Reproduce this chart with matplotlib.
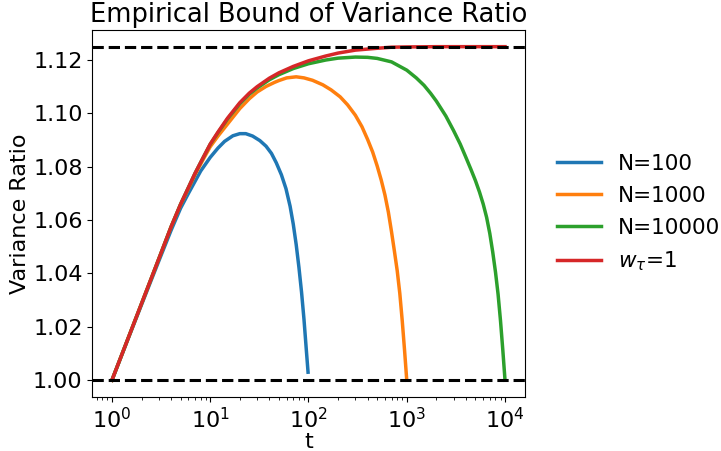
import matplotlib
matplotlib.use('Agg')
import matplotlib.pyplot as plt

# values (t on log axis)
t_100 = [1, 1.5, 2, 3, 4, 5, 6, 7, 8, 10, 12, 14, 17, 20, 23, 27, 32, 37, 42,
         47, 53, 59, 65, 70, 75, 80, 85, 90, 95, 99]
vr_100 = [1.0, 1.0166, 1.0283, 1.0447, 1.0562, 1.0645, 1.0700, 1.0745, 1.0784,
          1.0835, 1.0870, 1.0895, 1.0916, 1.0924, 1.0924, 1.0915, 1.0898, 1.0877,
          1.0850, 1.0815, 1.0770, 1.0718, 1.0652, 1.0585, 1.0508, 1.0422, 1.0330,
          1.0228, 1.0115, 1.0030]

t_1000 = [1, 1.5, 2, 3, 4, 5, 6, 7, 8.5, 10, 12, 15, 20, 25, 30, 37, 45, 50, 60,
          75, 90, 110, 140, 170, 210, 250, 300, 350, 400, 450, 500, 550, 600, 650,
          700, 750, 800, 850, 900, 950, 990, 1000]
vr_1000 = [1.0, 1.0168, 1.0287, 1.0455, 1.0575, 1.0658, 1.0718, 1.0770, 1.0828,
           1.0875, 1.0915, 1.0960, 1.1018, 1.1055, 1.1080, 1.1101, 1.1116, 1.1123,
           1.1133, 1.1137, 1.1133, 1.1124, 1.1107, 1.1088, 1.1062, 1.1032, 1.0993,
           1.0950, 1.0902, 1.0855, 1.0803, 1.0750, 1.0694, 1.0630, 1.0556, 1.0482,
           1.0410, 1.0325, 1.0222, 1.0112, 1.0022, 1.0]

t_10000 = [1, 1.5, 2, 3, 4, 5, 6, 7, 8.5, 10, 12, 15, 20, 25, 30, 40, 50, 70, 100,
           150, 200, 300, 400, 500, 700, 1000, 1250, 1500, 1750, 2000, 2500, 3000,
           3500, 4000, 4500, 5000, 5500, 6000, 6500, 7000, 7500, 8000, 8500, 9000,
           9500, 9900, 10000]
vr_10000 = [1.0, 1.0168, 1.0287, 1.0455, 1.0575, 1.0660, 1.0722, 1.0775, 1.0835,
            1.0884, 1.0928, 1.0979, 1.1036, 1.1072, 1.1095, 1.1126, 1.1145, 1.1168,
            1.1186, 1.1200, 1.1207, 1.1211, 1.1210, 1.1206, 1.1193, 1.1162, 1.1133,
            1.1105, 1.1075, 1.1046, 1.0990, 1.0935, 1.0885, 1.0835, 1.0790, 1.0748,
            1.0705, 1.0660, 1.0610, 1.0550, 1.0480, 1.0405, 1.0322, 1.0222, 1.0112,
            1.0022, 1.0]

t_w1 = [1, 1.5, 2, 3, 4, 5, 6, 7, 8.5, 10, 12, 15, 20, 25, 30, 40, 50, 70, 100,
        150, 200, 300, 500, 700, 1000, 2000, 5000, 10000]
vr_w1 = [1.0, 1.0168, 1.0287, 1.0455, 1.0575, 1.0660, 1.0722, 1.0775, 1.0835,
         1.0885, 1.0930, 1.0982, 1.1040, 1.1076, 1.1100, 1.1132, 1.1152, 1.1176,
         1.1197, 1.1215, 1.1226, 1.1237, 1.1244, 1.1248, 1.1249, 1.1250, 1.1250,
         1.1250]

lower, upper = 1.0, 1.125

plt.rcParams['font.size'] = 16
fig, ax = plt.subplots(figsize=(7.21, 4.51), dpi=100)
fig.subplots_adjust(left=0.128, right=0.7277, bottom=0.1200, top=0.9335)

ax.plot(t_100, vr_100, lw=2.5, label='N=100')
ax.plot(t_1000, vr_1000, lw=2.5, label='N=1000')
ax.plot(t_10000, vr_10000, lw=2.5, label='N=10000')
ax.plot(t_w1, vr_w1, lw=2.5, label=r'$w_{\tau}$=1')
ax.axhline(lower, color='k', ls='--', lw=2.2)
ax.axhline(upper, color='k', ls='--', lw=2.2)

ax.set_xscale('log')
ax.set_xlabel('t', labelpad=0)
ax.set_ylabel('Variance Ratio', labelpad=2)
ax.set_title('Empirical Bound of Variance Ratio', fontsize=18.5)
ax.legend(loc='center left', bbox_to_anchor=(1.029, 0.5), frameon=False,
          fontsize=15.5, labelspacing=0.55, handlelength=2.05)

fig.savefig('out.png', dpi=100)
